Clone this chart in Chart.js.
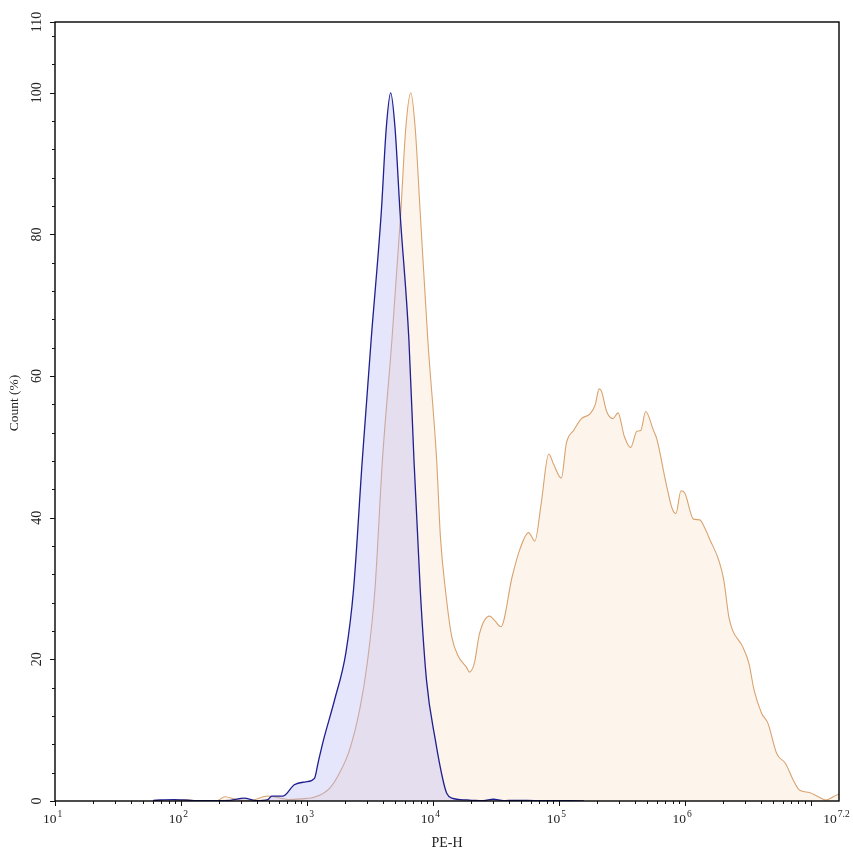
<!DOCTYPE html>
<html>
<head>
<meta charset="UTF-8">
<title>PE-H histogram</title>
<script src="https://cdn.jsdelivr.net/npm/chart.js"></script>
<style>
  body { margin: 0; background: #fff; }
  canvas { display: block; }
</style>
</head>
<body>
<canvas id="histo" width="853" height="856"></canvas>
<script>
// x values are log10(PE-H), y values are Count (%)
const blueX = [1.78, 1.95, 2.15, 2.39, 2.50, 2.60, 2.69, 2.72, 2.81, 2.90, 2.99, 3.06, 3.09, 3.13, 3.22, 3.31, 3.37,
  3.44, 3.51, 3.59, 3.63, 3.665, 3.70, 3.74, 3.81, 3.85, 3.90, 3.95, 4.02, 4.08, 4.11, 4.15, 4.27, 4.32, 4.40,
  4.48, 4.56, 4.65, 4.85, 5.10, 5.20];
const blueY = [0.1, 0.2, 0.05, 0.1, 0.4, 0.05, 0.2, 0.7, 0.7, 2.3, 2.7, 3.2, 5.5, 8.5, 14.3, 21, 29.8,
  48.2, 65.1, 83, 95, 100, 95, 83, 65.1, 48.2, 29.8, 17, 8.6, 3, 1.1, 0.4, 0.15, 0.1, 0.05,
  0.25, 0.05, 0.1, 0.05, 0.05, 0];

const orangeX = [1.95, 2.03, 2.13, 2.28, 2.35, 2.44, 2.55, 2.69, 2.86, 2.95, 3.07, 3.18, 3.26, 3.34, 3.42, 3.48,
  3.54, 3.60, 3.675, 3.745, 3.785, 3.825, 3.86, 3.90, 3.96, 4.03, 4.06, 4.10, 4.15, 4.20, 4.27, 4.29, 4.33,
  4.37, 4.45, 4.49, 4.54, 4.63, 4.69, 4.76, 4.81, 4.86, 4.92, 4.96, 5.02, 5.06, 5.12, 5.18, 5.25, 5.29, 5.32,
  5.34, 5.38, 5.43, 5.47, 5.52, 5.57, 5.62, 5.65, 5.69, 5.75, 5.78, 5.85, 5.90, 5.93, 5.97, 6.00, 6.07, 6.12,
  6.16, 6.20, 6.27, 6.31, 6.35, 6.38, 6.46, 6.51, 6.55, 6.61, 6.66, 6.73, 6.80, 6.86, 6.91, 6.99, 7.06, 7.12,
  7.18, 7.225];
const orangeY = [0, 0.2, 0, 0, 0.6, 0.2, 0.05, 0.7, 0.2, 0.3, 0.6, 1.8, 4.0, 7.3, 13, 19.6,
  29.8, 48.2, 65.1, 83, 95, 100, 95, 83, 65.1, 48.2, 37.3, 29.8, 23.2, 20.5, 18.8, 18.2, 19.5,
  23.6, 26.1, 25.5, 24.6, 31.7, 35.5, 37.9, 36.7, 42, 49, 47.5, 45.6, 50.5, 52.4, 54.0, 54.7, 56, 58.2,
  57.8, 55, 54.0, 54.8, 51.5, 49.9, 52.2, 52.3, 55.0, 52.4, 51, 45, 41.3, 40.6, 43.8, 43.5, 39.8, 39.7,
  38.5, 36.9, 34, 31.2, 26, 24.1, 21.8, 19.4, 15.7, 12.4, 11, 6.7, 5.3, 3.0, 1.55, 1.2, 0.6, 0.15,
  0.6, 1.0];

const xMin = 1, xMax = 7.2247;   // 10^1 .. 2^24
const xTickExps = [1, 2, 3, 4, 5, 6, 7.2247];
const xTickText = ["1", "2", "3", "4", "5", "6", "7.2"];
const yTicks = [0, 20, 40, 60, 80, 100, 110];

const serif = '"Liberation Serif", "Times New Roman", serif';

function pts(xs, ys) {
  return xs.map((x, i) => ({ x: x, y: ys[i] }));
}

// axes frame, ticks and labels
const axesPlugin = {
  id: 'axesPlugin',
  afterDraw(chart) {
    const ctx = chart.ctx;
    const a = chart.chartArea;
    const xs = chart.scales.x, ys = chart.scales.y;
    ctx.save();
    ctx.strokeStyle = '#000';
    ctx.lineWidth = 1.4;
    ctx.strokeRect(a.left, a.top, a.right - a.left, a.bottom - a.top);

    ctx.lineWidth = 1;
    ctx.strokeStyle = '#111';
    ctx.beginPath();
    // x ticks, log minor ticks
    for (let d = 1; d <= 7; d++) {
      for (let m = 1; m <= 9; m++) {
        const v = d + Math.log10(m);
        if (v > xMax) break;
        const px = Math.round(xs.getPixelForValue(v)) + 0.5;
        ctx.moveTo(px, a.bottom);
        ctx.lineTo(px, a.bottom + (m === 1 ? 5 : 3));
      }
    }
    // y ticks every 4, major every 20
    for (let v = 0; v <= 110; v += 4) {
      const py = Math.round(ys.getPixelForValue(v)) + 0.5;
      ctx.moveTo(a.left, py);
      ctx.lineTo(a.left - (v % 20 === 0 ? 5 : 3), py);
    }
    const top = Math.round(ys.getPixelForValue(110)) + 0.5;
    ctx.moveTo(a.left, top);
    ctx.lineTo(a.left - 5, top);
    ctx.stroke();

    ctx.fillStyle = '#222';
    // y tick labels, rotated
    ctx.font = '14px ' + serif;
    ctx.textAlign = 'center';
    ctx.textBaseline = 'middle';
    yTicks.forEach(v => {
      ctx.save();
      ctx.translate(37.5, ys.getPixelForValue(v));
      ctx.rotate(-Math.PI / 2);
      ctx.fillText(String(v), 0, 0);
      ctx.restore();
    });

    // x tick labels: 10 with superscript exponent
    ctx.textAlign = 'left';
    ctx.textBaseline = 'alphabetic';
    xTickExps.forEach((e, i) => {
      const px = xs.getPixelForValue(e);
      ctx.font = '13.5px ' + serif;
      const wb = ctx.measureText('10').width;
      ctx.font = '9.5px ' + serif;
      const we = ctx.measureText(xTickText[i]).width;
      const x0 = px - 2.5 - (wb + we + 1) / 2;
      ctx.font = '13.5px ' + serif;
      ctx.fillText('10', x0, 823);
      ctx.font = '9.5px ' + serif;
      ctx.fillText(xTickText[i], x0 + wb + 1, 817);
    });

    // axis titles
    ctx.textAlign = 'center';
    ctx.font = '14px ' + serif;
    ctx.fillText('PE-H', (a.left + a.right) / 2, 847);
    ctx.save();
    ctx.translate(14, 403);
    ctx.rotate(-Math.PI / 2);
    ctx.textBaseline = 'middle';
    ctx.font = '13.5px ' + serif;
    ctx.fillText('Count (%)', 0, 0);
    ctx.restore();
    ctx.restore();
  }
};

new Chart(document.getElementById('histo'), {
  type: 'line',
  data: {
    datasets: [
      {
        label: 'Control',
        data: pts(blueX, blueY),
        borderColor: '#1f1f8f',
        borderWidth: 1.3,
        backgroundColor: 'rgba(180, 180, 245, 0.35)',
        fill: 'origin',
        pointRadius: 0,
        cubicInterpolationMode: 'monotone'
      },
      {
        label: 'Stained',
        data: pts(orangeX, orangeY),
        borderColor: '#d9a370',
        borderWidth: 1.1,
        backgroundColor: 'rgba(250, 228, 205, 0.4)',
        fill: 'origin',
        pointRadius: 0,
        cubicInterpolationMode: 'monotone'
      }
    ]
  },
  options: {
    responsive: false,
    animation: false,
    devicePixelRatio: 1,
    layout: { padding: { left: 55, top: 22, right: 14, bottom: 55 } },
    scales: {
      x: { type: 'linear', min: xMin, max: xMax, display: false },
      y: { type: 'linear', min: 0, max: 110, display: false }
    },
    plugins: {
      legend: { display: false },
      tooltip: { enabled: false }
    }
  },
  plugins: [axesPlugin]
});
</script>
</body>
</html>
